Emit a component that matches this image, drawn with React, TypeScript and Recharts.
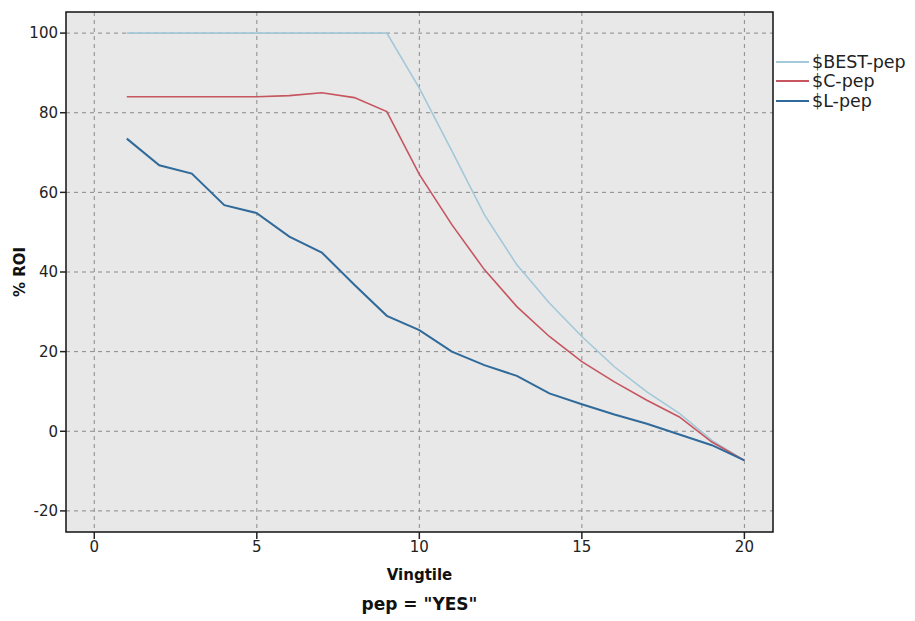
import {
  CartesianGrid,
  Label,
  Line,
  LineChart,
  ReferenceArea,
  XAxis,
  YAxis,
} from "recharts";

const vingtiles = [1, 2, 3, 4, 5, 6, 7, 8, 9, 10, 11, 12, 13, 14, 15, 16, 17, 18, 19, 20];
const bestPep = [100, 100, 100, 100, 100, 100, 100, 100, 100, 86.2, 70.4, 54.4, 41.8, 32.2, 23.8, 16.2, 9.9, 4.5, -2.3, -7.3];
const cPep = [84, 84, 84, 84, 84, 84.3, 85, 83.8, 80.3, 64.5, 51.9, 40.6, 31.3, 23.8, 17.5, 12.4, 7.8, 3.6, -2.7, -7.3];
const lPep = [73.5, 66.8, 64.7, 56.8, 54.8, 48.9, 44.9, 36.8, 29, 25.4, 20, 16.6, 13.9, 9.5, 6.8, 4.2, 1.9, -0.8, -3.5, -7.3];

const xTicks = [0, 5, 10, 15, 20];
const yTicks = [-20, 0, 20, 40, 60, 80, 100];
const xDomain: [number, number] = [-0.87, 20.88];
const yDomain: [number, number] = [-25.3, 105.3];

const series = [
  { key: "best", name: "$BEST-pep", color: "#a3c8d9", width: 1.6 },
  { key: "c", name: "$C-pep", color: "#c65560", width: 1.6 },
  { key: "l", name: "$L-pep", color: "#2f6a9a", width: 2 },
];

const chartData = vingtiles.map((v, i) => ({
  vingtile: v,
  best: bestPep[i],
  c: cPep[i],
  l: lPep[i],
}));

const font = "'DejaVu Sans', sans-serif";

function LegendBox() {
  return (
    <div
      style={{
        position: "absolute",
        left: 776,
        top: 52,
        fontFamily: font,
        fontSize: 17.5,
        color: "#222",
      }}
    >
      {series.map((s) => (
        <div key={s.key} style={{ display: "flex", alignItems: "center", height: 19.5 }}>
          <span
            style={{
              display: "inline-block",
              width: 33,
              height: s.width + 0.5,
              background: s.color,
              marginRight: 3,
            }}
          />
          {s.name}
        </div>
      ))}
    </div>
  );
}

export default function App() {
  return (
    <div style={{ position: "absolute", left: 0, top: 0, width: 915, height: 621, background: "#fff" }}>
      <LineChart
        width={915}
        height={621}
        data={chartData}
        margin={{ top: 12, right: 142, bottom: 58, left: 11 }}
      >
        <CartesianGrid
          fill="#e8e8e8"
          stroke="#8a8a8a"
          strokeDasharray="4 4"
          horizontalValues={yTicks}
          verticalValues={xTicks}
        />
        <XAxis
          dataKey="vingtile"
          type="number"
          domain={xDomain}
          ticks={xTicks}
          allowDataOverflow
          height={31}
          axisLine={false}
          tickLine={{ stroke: "#222", strokeWidth: 1.5 }}
          tickSize={7}
          tick={{ fill: "#222", fontSize: 15, fontFamily: font }}
        >
          <Label
            value="Vingtile"
            position="bottom"
            offset={6}
            style={{ fontFamily: font, fontWeight: "bold", fontSize: 15, fill: "#111" }}
          />
        </XAxis>
        <YAxis
          type="number"
          domain={yDomain}
          ticks={yTicks}
          allowDataOverflow
          width={55}
          axisLine={false}
          tickLine={{ stroke: "#222", strokeWidth: 1.5 }}
          tickSize={6}
          tick={{ fill: "#222", fontSize: 15, fontFamily: font }}
        >
          <Label
            value="% ROI"
            angle={-90}
            position="insideLeft"
            offset={9}
            style={{ textAnchor: "middle", fontFamily: font, fontWeight: "bold", fontSize: 15, fill: "#111" }}
          />
        </YAxis>
        <ReferenceArea
          x1={xDomain[0]}
          x2={xDomain[1]}
          y1={yDomain[0]}
          y2={yDomain[1]}
          fill="none"
          stroke="#111"
          strokeWidth={1.5}
          ifOverflow="visible"
        />
        {series.map((s) => (
          <Line
            key={s.key}
            type="linear"
            dataKey={s.key}
            name={s.name}
            stroke={s.color}
            strokeWidth={s.width}
            dot={false}
            isAnimationActive={false}
          />
        ))}
      </LineChart>
      <LegendBox />
      <div
        style={{
          position: "absolute",
          left: 66,
          width: 707,
          top: 594,
          textAlign: "center",
          fontFamily: font,
          fontWeight: "bold",
          fontSize: 17,
          color: "#111",
        }}
      >
        pep = "YES"
      </div>
    </div>
  );
}
